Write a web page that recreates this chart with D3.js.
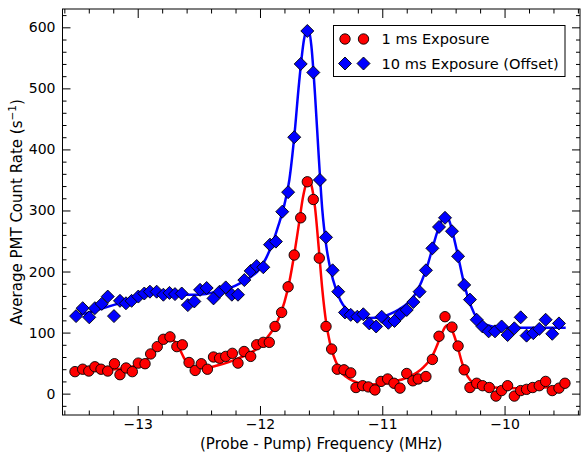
<!DOCTYPE html>
<html>
<head>
<meta charset="utf-8">
<script src="https://cdn.jsdelivr.net/npm/d3@7/dist/d3.min.js"></script>
<style>
  html, body { margin: 0; padding: 0; background: #fff; }
  svg { display: block; font-family: "DejaVu Sans", sans-serif; }
</style>
</head>
<body>
<svg id="chart" width="581" height="454"></svg>
<script>
// 1 ms exposure: measured points
const redFreq = [-13.513,-13.45,-13.40,-13.35,-13.30,-13.245,-13.19,-13.145,-13.095,-13.044,
  -12.995,-12.94,-12.894,-12.84,-12.79,-12.736,-12.68,-12.635,-12.58,-12.53,
  -12.48,-12.43,-12.38,-12.33,-12.28,-12.226,-12.18,-12.13,-12.076,-12.027,
  -11.973,-11.924,-11.877,-11.823,-11.77,-11.72,-11.667,-11.613,-11.564,-11.515,
  -11.46,-11.414,-11.368,-11.313,-11.258,-11.215,-11.16,-11.114,-11.06,-11.01,
  -10.956,-10.904,-10.855,-10.80,-10.75,-10.706,-10.643,-10.59,-10.536,-10.487,
  -10.43,-10.38,-10.33,-10.283,-10.228,-10.18,-10.125,-10.07,-10.024,-9.975,
  -9.92,-9.868,-9.82,-9.77,-9.716,-9.664,-9.61,-9.555,-9.506];
const redRate = [36,40,37,44,40,37,49,31,42,36,
  50,49,65,77,89,93,77,80,51,38,
  49,40,60,58,61,66,50,69,61,80,
  84,84,110,133,175,227,288,347,318,222,
  110,73,40,39,34,10,13,11,6,20,
  24,17,9,33,21,24,28,56,94,126,
  109,78,39,10,17,13,10,-4,5,13,
  -4,5,7,10,13,20,5,9,17];

// 10 ms exposure (offset): measured points
const blueFreq = [-13.504,-13.45,-13.396,-13.35,-13.294,-13.245,-13.194,-13.145,-13.096,-13.05,
  -12.995,-12.946,-12.90,-12.845,-12.79,-12.74,-12.695,-12.64,-12.59,-12.537,
  -12.49,-12.436,-12.38,-12.33,-12.28,-12.23,-12.18,-12.128,-12.076,-12.027,
  -11.973,-11.918,-11.87,-11.818,-11.77,-11.72,-11.667,-11.613,-11.564,-11.51,
  -11.46,-11.406,-11.36,-11.305,-11.258,-11.204,-11.155,-11.106,-11.05,-11.005,
  -10.95,-10.90,-10.85,-10.80,-10.746,-10.695,-10.643,-10.59,-10.536,-10.487,
  -10.43,-10.38,-10.33,-10.283,-10.228,-10.18,-10.13,-10.078,-10.024,-9.975,
  -9.92,-9.868,-9.82,-9.765,-9.716,-9.664,-9.61,-9.555];
const blueRate = [127,140,125,140,147,159,127,152,148,152,
  159,164,167,167,162,165,163,164,145,151,
  170,173,156,167,174,162,162,186,201,209,
  207,244,249,298,330,420,540,594,526,350,
  256,202,167,133,129,126,130,115,110,126,
  116,119,130,137,150,167,202,238,273,288,
  266,225,178,154,121,110,102,102,110,96,
  107,125,95,99,106,121,98,115];

// Fitted line shapes
const redFitFreq = [-13.55,-13.4,-13.25,-13.1,-13.0,-12.92,-12.85,-12.79,-12.74,-12.70,
  -12.66,-12.62,-12.58,-12.52,-12.45,-12.35,-12.25,-12.15,-12.05,-12.0,
  -11.95,-11.9,-11.85,-11.8,-11.76,-11.72,-11.68,-11.65,-11.62,-11.6,
  -11.58,-11.55,-11.52,-11.49,-11.46,-11.43,-11.4,-11.36,-11.32,-11.27,
  -11.2,-11.1,-11.0,-10.9,-10.8,-10.72,-10.66,-10.6,-10.56,-10.52,
  -10.49,-10.47,-10.44,-10.41,-10.38,-10.35,-10.32,-10.28,-10.22,-10.1,
  -9.9,-9.7,-9.5];
const redFitRate = [36,37,39,42,47,57,72,86,90,86,
  74,58,48,42,42,46,52,60,70,78,
  90,103,122,150,183,228,280,320,345,350,
  342,305,240,170,118,85,63,44,32,24,
  18,15,16,20,26,34,44,58,75,95,
  108,112,108,94,74,52,35,22,14,10,
  9,10,11];

const blueFitFreq = [-13.52,-13.4,-13.3,-13.2,-13.1,-13.0,-12.9,-12.8,-12.7,-12.6,
  -12.5,-12.4,-12.3,-12.2,-12.1,-12.0,-11.95,-11.9,-11.85,-11.8,
  -11.76,-11.72,-11.68,-11.64,-11.61,-11.58,-11.55,-11.52,-11.49,-11.46,
  -11.42,-11.38,-11.34,-11.3,-11.2,-11.1,-11.0,-10.9,-10.8,-10.74,
  -10.68,-10.63,-10.59,-10.55,-10.51,-10.48,-10.45,-10.42,-10.38,-10.34,
  -10.3,-10.25,-10.2,-10.1,-10.0,-9.8,-9.6,-9.5];
const blueFitRate = [128,133,139,145,151,157,163,166,165,162,
  162,165,170,177,188,205,222,245,275,310,
  350,420,510,580,600,570,490,390,300,245,
  200,172,152,140,128,124,126,134,147,160,
  183,210,238,265,285,292,282,260,225,188,
  158,132,118,110,108,108,108,108];

const xTickValues = [-13, -12, -11, -10];
const yTickValues = [0, 100, 200, 300, 400, 500, 600];
const legendLabels = ["1 ms Exposure", "10 ms Exposure (Offset)"];

const svg = d3.select("#chart");
const plotLeft = 62.5, plotRight = 580, plotTop = 9, plotBottom = 415;

const x = d3.scaleLinear().domain([-13.615, -9.383]).range([plotLeft, plotRight]);
const y = d3.scaleLinear().domain([-35, 630]).range([plotBottom, plotTop]);

const RED = "#ff0000", BLUE = "#0000ff";

svg.append("defs").append("clipPath").attr("id", "plotclip")
  .append("rect").attr("x", plotLeft).attr("y", plotTop)
  .attr("width", plotRight - plotLeft).attr("height", plotBottom - plotTop);

const plot = svg.append("g").attr("clip-path", "url(#plotclip)");

const line = d3.line().curve(d3.curveMonotoneX)
  .x(d => x(d[0])).y(d => y(d[1]));

plot.append("path")
  .datum(d3.zip(redFitFreq, redFitRate))
  .attr("d", line).attr("fill", "none")
  .attr("stroke", RED).attr("stroke-width", 2.5);

plot.append("path")
  .datum(d3.zip(blueFitFreq, blueFitRate))
  .attr("d", line).attr("fill", "none")
  .attr("stroke", BLUE).attr("stroke-width", 2.5);

const circle = d3.symbol().type(d3.symbolCircle).size(Math.PI * 5.2 * 5.2);
const diamond = (r) => `M0,${-r}L${r},0L0,${r}L${-r},0Z`;

plot.append("g").selectAll("path")
  .data(d3.zip(redFreq, redRate))
  .join("path")
  .attr("transform", d => `translate(${x(d[0])},${y(d[1])})`)
  .attr("d", circle)
  .attr("fill", RED).attr("stroke", "#000").attr("stroke-width", 0.9);

plot.append("g").selectAll("path")
  .data(d3.zip(blueFreq, blueRate))
  .join("path")
  .attr("transform", d => `translate(${x(d[0])},${y(d[1])})`)
  .attr("d", diamond(6.5))
  .attr("fill", BLUE).attr("stroke", "#000").attr("stroke-width", 0.9);

// Axes: ticks point inward on all four sides
const xMinor = d3.range(-13.6, -9.39, 0.2).map(v => +v.toFixed(2)).filter(v => !xTickValues.includes(v));
const yMinor = d3.range(-20, 621, 20).filter(v => v % 100 !== 0);
const fmt = d3.format("");

function styleAxis(g) {
  g.select(".domain").remove();
  g.selectAll(".tick line").attr("stroke", "#000").attr("stroke-width", 1);
  g.selectAll(".tick text").attr("font-size", 14).attr("fill", "#000")
    .attr("font-family", "DejaVu Sans, sans-serif");
}

svg.append("g").attr("transform", `translate(0,${plotBottom})`)
  .call(d3.axisBottom(x).tickValues(xTickValues).tickFormat(fmt).tickSizeInner(-9).tickPadding(6))
  .call(styleAxis)
  .call(g => g.selectAll(".tick text").attr("dy", "0.71em").attr("y", 4));
svg.append("g").attr("transform", `translate(0,${plotBottom})`)
  .call(d3.axisBottom(x).tickValues(xMinor).tickFormat("").tickSizeInner(-4.5))
  .call(styleAxis);
svg.append("g").attr("transform", `translate(0,${plotTop})`)
  .call(d3.axisTop(x).tickValues(xTickValues).tickFormat("").tickSizeInner(-9))
  .call(styleAxis);
svg.append("g").attr("transform", `translate(0,${plotTop})`)
  .call(d3.axisTop(x).tickValues(xMinor).tickFormat("").tickSizeInner(-4.5))
  .call(styleAxis);

svg.append("g").attr("transform", `translate(${plotLeft},0)`)
  .call(d3.axisLeft(y).tickValues(yTickValues).tickFormat(fmt).tickSizeInner(-8).tickPadding(8))
  .call(styleAxis)
  .call(g => g.selectAll(".tick text").attr("x", -7));
svg.append("g").attr("transform", `translate(${plotLeft},0)`)
  .call(d3.axisLeft(y).tickValues(yMinor).tickFormat("").tickSizeInner(-4))
  .call(styleAxis);
svg.append("g").attr("transform", `translate(${plotRight},0)`)
  .call(d3.axisRight(y).tickValues(yTickValues).tickFormat("").tickSizeInner(-8))
  .call(styleAxis);
svg.append("g").attr("transform", `translate(${plotRight},0)`)
  .call(d3.axisRight(y).tickValues(yMinor).tickFormat("").tickSizeInner(-4))
  .call(styleAxis);

// Frame
svg.append("rect").attr("x", plotLeft).attr("y", plotTop)
  .attr("width", plotRight - plotLeft).attr("height", plotBottom - plotTop)
  .attr("fill", "none").attr("stroke", "#000").attr("stroke-width", 1);

// Axis titles
svg.append("text").attr("x", (plotLeft + plotRight) / 2).attr("y", 448.5)
  .attr("text-anchor", "middle").attr("font-size", 15).attr("fill", "#000")
  .text("(Probe - Pump) Frequency (MHz)");

const yTitle = svg.append("text")
  .attr("transform", `translate(22,${(plotTop + plotBottom) / 2}) rotate(-90)`)
  .attr("text-anchor", "middle").attr("font-size", 15).attr("fill", "#000");
yTitle.append("tspan").text("Average PMT Count Rate (s");
yTitle.append("tspan").attr("dy", -6).attr("font-size", 10.5).text("\u22121");
yTitle.append("tspan").attr("dy", 6).text(")");

// Legend
const lg = svg.append("g");
lg.append("rect").attr("x", 333.5).attr("y", 25.5).attr("width", 231.5).attr("height", 51)
  .attr("fill", "#fff").attr("stroke", "#000").attr("stroke-width", 1);
const rows = [39, 63.5];
[345, 363.5].forEach(mx => {
  lg.append("path").attr("transform", `translate(${mx},${rows[0]})`).attr("d", circle)
    .attr("fill", RED).attr("stroke", "#000").attr("stroke-width", 0.9);
  lg.append("path").attr("transform", `translate(${mx},${rows[1]})`).attr("d", diamond(6.5))
    .attr("fill", BLUE).attr("stroke", "#000").attr("stroke-width", 0.9);
});
legendLabels.forEach((t, i) => {
  lg.append("text").attr("x", 381.5).attr("y", rows[i]).attr("dy", "0.36em")
    .attr("font-size", 14.6).attr("fill", "#000").text(t);
});
</script>
</body>
</html>
